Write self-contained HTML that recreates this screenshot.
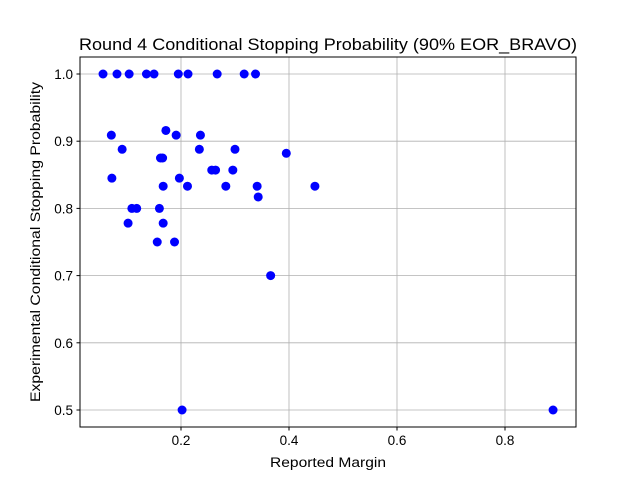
<!DOCTYPE html>
<html><head><meta charset="utf-8"><style>
body{margin:0;background:#fff}
svg{display:block;font-family:"Liberation Sans","DejaVu Sans",sans-serif}
</style></head><body>
<svg id="chart" width="640" height="480">
<rect x="0" y="0" width="640" height="480" fill="#fff"/>
<g id="grid"></g>
<g id="pts"></g>
<rect x="80" y="57" width="496" height="370" fill="none" stroke="#000" stroke-width="1"/>
<g id="ticks"></g>
<text x="79" y="50" textLength="498" lengthAdjust="spacingAndGlyphs" font-size="16.5">Round 4 Conditional Stopping Probability (90% EOR_BRAVO)</text>
<text x="270" y="467" textLength="116" lengthAdjust="spacingAndGlyphs" font-size="13.5">Reported Margin</text>
<text x="40" y="242" text-anchor="middle" textLength="320" lengthAdjust="spacingAndGlyphs" font-size="13.5" transform="rotate(-90 40 242)">Experimental Conditional Stopping Probability</text>
</svg>
<script>
const xs=[0.0556,0.0815,0.104,0.136,0.150,0.195,0.213,0.267,0.317,0.338,
0.071,0.172,0.191,0.236,0.091,0.234,0.300,0.395,0.162,0.166,0.257,0.264,0.296,0.072,0.197,0.167,0.212,0.283,0.341,0.343,0.109,0.118,0.160,0.102,0.167,0.156,0.188,0.366,0.889,0.202,0.448];
const ys=[1,1,1,1,1,1,1,1,1,1,
0.909,0.916,0.909,0.909,0.888,0.888,0.888,0.882,0.875,0.875,0.857,0.857,0.857,0.845,0.845,0.833,0.833,0.833,0.833,0.817,0.8,0.8,0.8,0.778,0.778,0.75,0.75,0.7,0.5,0.5,0.833];
const xTicks=[0.2,0.4,0.6,0.8];
const xTickLabels=["0.2","0.4","0.6","0.8"];
const yTicks=[0.5,0.6,0.7,0.8,0.9,1.0];
const yTickLabels=["0.5","0.6","0.7","0.8","0.9","1.0"];
const X=v=>73+v*540, Y=v=>74+(1-v)*672;
const NS="http://www.w3.org/2000/svg";
const grid=document.getElementById('grid'),ticks=document.getElementById('ticks'),pts=document.getElementById('pts');
function mk(tag,a,p){const e=document.createElementNS(NS,tag);for(const k in a)e.setAttribute(k,a[k]);p.appendChild(e);return e;}
xTicks.forEach((t,i)=>{const x=X(t);
 const g=mk('line',{x1:x,x2:x,y1:57,y2:427,stroke:'#b0b0b0','stroke-width':0.8},grid);
 
 
 mk('line',{x1:x,x2:x,y1:427,y2:430.5,stroke:'#000'},ticks);
 const tx=mk('text',{x:x,y:445,'text-anchor':'middle','font-size':13.5},ticks);tx.textContent=xTickLabels[i];
 
 
});
yTicks.forEach((t,i)=>{const y=Y(t);
 const g=mk('line',{x1:80,x2:576,y1:y,y2:y,stroke:'#b0b0b0','stroke-width':0.8},grid);
 
 
 mk('line',{x1:76.5,x2:80,y1:y,y2:y,stroke:'#000'},ticks);
 const tx=mk('text',{x:73,y:y+5,'text-anchor':'end','font-size':13.5},ticks);tx.textContent=yTickLabels[i];
 
 
});
xs.forEach((v,i)=>{
 const c=mk('circle',{cx:X(v),cy:Y(ys[i]),r:4.5,fill:'#0000ff'},pts);
 
 
});
</script>
</body></html>
